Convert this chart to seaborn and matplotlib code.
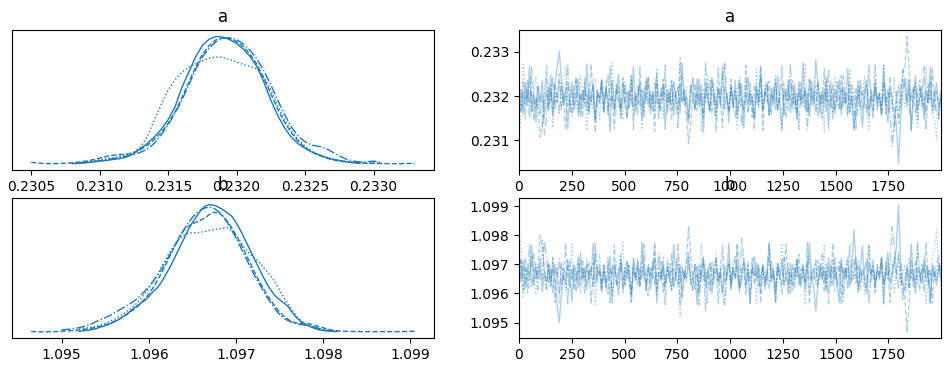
import numpy as np
import pandas as pd
import matplotlib
matplotlib.use("Agg")
import matplotlib.pyplot as plt
import seaborn as sns

# one line style per chain, as in an ArviZ trace plot
chain_styles = ["-", "--", ":", "-."]
KDE_STEP = 0.00005

# ---- KDE curves (relative height, grid step 0.00005) ----
a_kde_start = [0.23080, 0.23050, 0.23080, 0.23085]
a_kde_c0 = [0.005, 0.008, 0.012, 0.018, 0.025, 0.030, 0.038, 0.045, 0.058, 0.085,
            0.125, 0.165, 0.215, 0.275, 0.35, 0.45, 0.60, 0.72, 0.84, 0.93,
            0.98, 1.0, 0.995, 0.975, 0.945, 0.90, 0.84, 0.76, 0.64, 0.50,
            0.38, 0.285, 0.21, 0.16, 0.125, 0.095, 0.075, 0.055, 0.04, 0.03,
            0.02, 0.012, 0.008]
a_kde_c1 = [0.015, 0.01, 0.006, 0.005, 0.006, 0.008, 0.012, 0.017, 0.025, 0.035,
            0.048, 0.062, 0.072, 0.076, 0.078, 0.09, 0.115, 0.15, 0.195, 0.25,
            0.32, 0.41, 0.52, 0.64, 0.76, 0.86, 0.93, 0.975, 0.99, 0.985,
            0.96, 0.92, 0.86, 0.78, 0.67, 0.55, 0.43, 0.33, 0.245, 0.18,
            0.13, 0.095, 0.07, 0.05, 0.035, 0.025, 0.018, 0.013, 0.01, 0.008,
            0.007, 0.006, 0.005, 0.005, 0.005, 0.006, 0.008]
a_kde_c2 = [0.01, 0.014, 0.02, 0.027, 0.035, 0.045, 0.053, 0.063, 0.08, 0.095,
            0.14, 0.22, 0.35, 0.47, 0.58, 0.66, 0.72, 0.76, 0.785, 0.81,
            0.83, 0.84, 0.835, 0.82, 0.80, 0.78, 0.765, 0.745, 0.68, 0.58,
            0.46, 0.35, 0.26, 0.19, 0.14, 0.10, 0.075, 0.055, 0.04, 0.03,
            0.022, 0.016, 0.012, 0.01, 0.012, 0.008]
a_kde_c3 = [0.01, 0.015, 0.02, 0.028, 0.036, 0.045, 0.055, 0.065, 0.075, 0.095,
            0.12, 0.165, 0.23, 0.31, 0.40, 0.50, 0.62, 0.74, 0.84, 0.91,
            0.96, 0.985, 0.99, 0.975, 0.94, 0.89, 0.82, 0.73, 0.62, 0.50,
            0.39, 0.29, 0.22, 0.175, 0.15, 0.14, 0.125, 0.095, 0.065, 0.04,
            0.025, 0.018, 0.02, 0.025, 0.015]

b_kde_start = [1.09520, 1.09465, 1.09520, 1.09500]
b_kde_c0 = [0.008, 0.012, 0.016, 0.022, 0.03, 0.042, 0.052, 0.065, 0.08, 0.098,
            0.12, 0.145, 0.172, 0.2, 0.225, 0.248, 0.28, 0.32, 0.35, 0.40,
            0.46, 0.52, 0.59, 0.66, 0.73, 0.80, 0.86, 0.91, 0.96, 0.99,
            1.0, 0.995, 0.98, 0.96, 0.935, 0.91, 0.86, 0.80, 0.73, 0.66,
            0.59, 0.52, 0.45, 0.385, 0.33, 0.285, 0.255, 0.23, 0.20, 0.15,
            0.11, 0.08, 0.06, 0.045, 0.03, 0.02, 0.014, 0.01, 0.007, 0.005]
b_kde_c1 = [0.006, 0.005, 0.004, 0.004, 0.004, 0.005, 0.006, 0.008, 0.01, 0.012,
            0.015, 0.018, 0.022, 0.027, 0.033, 0.04, 0.048, 0.058, 0.07, 0.085,
            0.10, 0.12, 0.14, 0.165, 0.19, 0.22, 0.26, 0.30, 0.35, 0.41,
            0.47, 0.54, 0.61, 0.68, 0.75, 0.80, 0.83, 0.85, 0.865, 0.88,
            0.90, 0.925, 0.94, 0.935, 0.91, 0.87, 0.82, 0.76, 0.70, 0.63,
            0.56, 0.49, 0.42, 0.36, 0.30, 0.25, 0.20, 0.16, 0.125, 0.10,
            0.082, 0.072, 0.07, 0.07, 0.065, 0.055, 0.045, 0.035, 0.025, 0.018,
            0.013, 0.01, 0.008, 0.007, 0.006, 0.006, 0.005, 0.005, 0.005, 0.005,
            0.005, 0.005, 0.005, 0.005, 0.005, 0.006, 0.006, 0.007, 0.008]
b_kde_c2 = [0.03, 0.032, 0.035, 0.04, 0.048, 0.058, 0.07, 0.085, 0.10, 0.12,
            0.14, 0.165, 0.19, 0.22, 0.255, 0.30, 0.345, 0.40, 0.455, 0.52,
            0.58, 0.64, 0.69, 0.73, 0.76, 0.775, 0.78, 0.78, 0.785, 0.79,
            0.80, 0.805, 0.81, 0.815, 0.82, 0.80, 0.76, 0.71, 0.66, 0.62,
            0.59, 0.56, 0.52, 0.48, 0.44, 0.39, 0.33, 0.27, 0.22, 0.17,
            0.12, 0.09, 0.065, 0.05, 0.04, 0.03, 0.022, 0.016, 0.012, 0.01,
            0.008]
b_kde_c3 = [0.02, 0.022, 0.025, 0.03, 0.037, 0.045, 0.055, 0.068, 0.085, 0.10,
            0.115, 0.13, 0.15, 0.17, 0.19, 0.21, 0.23, 0.255, 0.285, 0.32,
            0.36, 0.40, 0.445, 0.50, 0.56, 0.62, 0.68, 0.74, 0.80, 0.855,
            0.90, 0.935, 0.96, 0.975, 0.98, 0.97, 0.945, 0.91, 0.86, 0.80,
            0.74, 0.67, 0.60, 0.53, 0.46, 0.40, 0.34, 0.28, 0.23, 0.18,
            0.14, 0.11, 0.09, 0.075, 0.065, 0.06, 0.055, 0.05, 0.04, 0.03,
            0.022, 0.015, 0.01]

# ---- traces (every ~10th draw of 2000) ----
a_trace_c0 = [
    0.23172, 0.23215, 0.23158, 0.23230, 0.23184, 0.23268, 0.23165, 0.23205, 0.23140, 0.23222,
    0.23190, 0.23236, 0.23150, 0.23212, 0.23176, 0.23248, 0.23161, 0.23226, 0.23262, 0.23302,
    0.23240, 0.23180, 0.23218, 0.23126, 0.23203, 0.23232, 0.23166, 0.23197, 0.23240, 0.23155,
    0.23214, 0.23178, 0.23272, 0.23160, 0.23198, 0.23226, 0.23142, 0.23210, 0.23185, 0.23238,
    0.23163, 0.23220, 0.23192, 0.23120, 0.23235, 0.23172, 0.23208, 0.23250, 0.23158, 0.23196,
    0.23225, 0.23150, 0.23212, 0.23182, 0.23266, 0.23166, 0.23201, 0.23230, 0.23146, 0.23218,
    0.23188, 0.23240, 0.23160, 0.23206, 0.23176, 0.23252, 0.23170, 0.23198, 0.23228, 0.23124,
    0.23215, 0.23184, 0.23236, 0.23156, 0.23205, 0.23222, 0.23162, 0.23274, 0.23180, 0.23200,
    0.23150, 0.23226, 0.23194, 0.23168, 0.23238, 0.23175, 0.23212, 0.23118, 0.23230, 0.23190,
    0.23164, 0.23242, 0.23200, 0.23158, 0.23220, 0.23185, 0.23268, 0.23168, 0.23205, 0.23140,
    0.23218, 0.23176, 0.23236, 0.23160, 0.23196, 0.23228, 0.23128, 0.23210, 0.23244, 0.23178,
    0.23200, 0.23148, 0.23226, 0.23185, 0.23264, 0.23165, 0.23208, 0.23232, 0.23156, 0.23195,
    0.23222, 0.23170, 0.23246, 0.23184, 0.23122, 0.23214, 0.23190, 0.23238, 0.23162, 0.23200,
    0.23228, 0.23145, 0.23216, 0.23180, 0.23276, 0.23168, 0.23206, 0.23155, 0.23234, 0.23192,
    0.23282, 0.23230, 0.23160, 0.23210, 0.23176, 0.23242, 0.23126, 0.23204, 0.23226, 0.23170,
    0.23196, 0.23238, 0.23158, 0.23214, 0.23185, 0.23262, 0.23165, 0.23200, 0.23122, 0.23172,
    0.23224, 0.23180, 0.23130, 0.23212, 0.23236, 0.23168, 0.23198, 0.23150, 0.23230, 0.23186,
    0.23208, 0.23160, 0.23270, 0.23175, 0.23140, 0.23218, 0.23192, 0.23165, 0.23135, 0.23047,
    0.23150, 0.23212, 0.23240, 0.23176, 0.23226, 0.23124, 0.23205, 0.23246, 0.23170, 0.23196,
    0.23222, 0.23148, 0.23214, 0.23184, 0.23266, 0.23162, 0.23200, 0.23230, 0.23155, 0.23210]
a_trace_c1 = [
    0.23222, 0.23165, 0.23208, 0.23150, 0.23236, 0.23182, 0.23212, 0.23145, 0.23198, 0.23170,
    0.23107, 0.23130, 0.23190, 0.23268, 0.23168, 0.23214, 0.23155, 0.23228, 0.23186, 0.23250,
    0.23172, 0.23206, 0.23124, 0.23232, 0.23195, 0.23160, 0.23218, 0.23244, 0.23176, 0.23205,
    0.23152, 0.23230, 0.23188, 0.23165, 0.23272, 0.23200, 0.23148, 0.23216, 0.23184, 0.23235,
    0.23162, 0.23210, 0.23248, 0.23178, 0.23202, 0.23126, 0.23226, 0.23190, 0.23168, 0.23242,
    0.23180, 0.23150, 0.23215, 0.23236, 0.23172, 0.23204, 0.23158, 0.23266, 0.23196, 0.23166,
    0.23220, 0.23245, 0.23176, 0.23208, 0.23120, 0.23230, 0.23186, 0.23164, 0.23238, 0.23198,
    0.23174, 0.23214, 0.23146, 0.23228, 0.23192, 0.23170, 0.23274, 0.23184, 0.23210, 0.23156,
    0.23092, 0.23140, 0.23205, 0.23228, 0.23168, 0.23242, 0.23180, 0.23150, 0.23216, 0.23194,
    0.23236, 0.23160, 0.23204, 0.23178, 0.23264, 0.23188, 0.23128, 0.23222, 0.23200, 0.23170,
    0.23238, 0.23176, 0.23212, 0.23148, 0.23230, 0.23190, 0.23164, 0.23270, 0.23182, 0.23206,
    0.23152, 0.23226, 0.23198, 0.23172, 0.23240, 0.23122, 0.23214, 0.23186, 0.23234, 0.23158,
    0.23200, 0.23228, 0.23166, 0.23210, 0.23268, 0.23175, 0.23152, 0.23218, 0.23192, 0.23236,
    0.23170, 0.23204, 0.23124, 0.23230, 0.23184, 0.23212, 0.23162, 0.23242, 0.23196, 0.23178,
    0.23224, 0.23155, 0.23208, 0.23182, 0.23262, 0.23165, 0.23198, 0.23232, 0.23148, 0.23214,
    0.23188, 0.23170, 0.23246, 0.23176, 0.23206, 0.23160, 0.23228, 0.23194, 0.23128, 0.23220,
    0.23180, 0.23236, 0.23168, 0.23202, 0.23226, 0.23150, 0.23214, 0.23188, 0.23270, 0.23172,
    0.23196, 0.23158, 0.23230, 0.23206, 0.23164, 0.23244, 0.23184, 0.23120, 0.23212, 0.23138,
    0.23200, 0.23252, 0.23262, 0.23335, 0.23268, 0.23190, 0.23222, 0.23160, 0.23208, 0.23236,
    0.23174, 0.23196, 0.23126, 0.23226, 0.23186, 0.23266, 0.23166, 0.23210, 0.23180, 0.23198]
a_trace_c2 = [
    0.23104, 0.23150, 0.23272, 0.23214, 0.23176, 0.23232, 0.23160, 0.23204, 0.23245, 0.23168,
    0.23196, 0.23130, 0.23212, 0.23238, 0.23172, 0.23220, 0.23128, 0.23206, 0.23186, 0.23234,
    0.23166, 0.23210, 0.23268, 0.23178, 0.23198, 0.23152, 0.23226, 0.23190, 0.23164, 0.23246,
    0.23182, 0.23210, 0.23122, 0.23228, 0.23200, 0.23170, 0.23240, 0.23186, 0.23148, 0.23216,
    0.23194, 0.23236, 0.23168, 0.23204, 0.23276, 0.23175, 0.23160, 0.23222, 0.23188, 0.23146,
    0.23232, 0.23198, 0.23176, 0.23244, 0.23162, 0.23210, 0.23184, 0.23228, 0.23124, 0.23200,
    0.23238, 0.23172, 0.23214, 0.23190, 0.23160, 0.23264, 0.23180, 0.23205, 0.23150, 0.23226,
    0.23196, 0.23168, 0.23236, 0.23178, 0.23212, 0.23156, 0.23289, 0.23242, 0.23190, 0.23220,
    0.23150, 0.23206, 0.23240, 0.23176, 0.23198, 0.23226, 0.23120, 0.23214, 0.23184, 0.23245,
    0.23166, 0.23202, 0.23230, 0.23148, 0.23218, 0.23190, 0.23172, 0.23272, 0.23200, 0.23162,
    0.23226, 0.23186, 0.23210, 0.23126, 0.23244, 0.23176, 0.23198, 0.23232, 0.23164, 0.23212,
    0.23188, 0.23150, 0.23266, 0.23180, 0.23206, 0.23170, 0.23228, 0.23196, 0.23158, 0.23220,
    0.23184, 0.23246, 0.23172, 0.23204, 0.23128, 0.23230, 0.23192, 0.23166, 0.23238, 0.23178,
    0.23212, 0.23160, 0.23226, 0.23200, 0.23174, 0.23274, 0.23186, 0.23156, 0.23216, 0.23196,
    0.23170, 0.23232, 0.23188, 0.23210, 0.23118, 0.23236, 0.23176, 0.23202, 0.23162, 0.23244,
    0.23192, 0.23168, 0.23220, 0.23184, 0.23205, 0.23152, 0.23262, 0.23178, 0.23212, 0.23190,
    0.23160, 0.23224, 0.23200, 0.23246, 0.23174, 0.23124, 0.23216, 0.23188, 0.23236, 0.23166,
    0.23204, 0.23180, 0.23270, 0.23158, 0.23214, 0.23196, 0.23170, 0.23242, 0.23186, 0.23148,
    0.23226, 0.23198, 0.23176, 0.23240, 0.23160, 0.23212, 0.23186, 0.23230, 0.23126, 0.23218,
    0.23196, 0.23170, 0.23268, 0.23182, 0.23206, 0.23165, 0.23150, 0.23102, 0.23178, 0.23214]
a_trace_c3 = [
    0.23207, 0.23168, 0.23232, 0.23180, 0.23215, 0.23150, 0.23264, 0.23196, 0.23172, 0.23222,
    0.23160, 0.23205, 0.23112, 0.23150, 0.23226, 0.23188, 0.23244, 0.23170, 0.23210, 0.23158,
    0.23230, 0.23186, 0.23200, 0.23272, 0.23164, 0.23214, 0.23178, 0.23236, 0.23152, 0.23204,
    0.23190, 0.23240, 0.23168, 0.23212, 0.23180, 0.23226, 0.23120, 0.23208, 0.23196, 0.23234,
    0.23172, 0.23218, 0.23156, 0.23266, 0.23190, 0.23166, 0.23228, 0.23202, 0.23150, 0.23236,
    0.23184, 0.23210, 0.23174, 0.23246, 0.23124, 0.23198, 0.23222, 0.23178, 0.23212, 0.23154,
    0.23240, 0.23182, 0.23204, 0.23168, 0.23230, 0.23196, 0.23150, 0.23220, 0.23188, 0.23270,
    0.23162, 0.23208, 0.23176, 0.23232, 0.23200, 0.23128, 0.23226, 0.23186, 0.23214, 0.23170,
    0.23136, 0.23218, 0.23240, 0.23172, 0.23206, 0.23182, 0.23226, 0.23160, 0.23277, 0.23200,
    0.23166, 0.23236, 0.23190, 0.23122, 0.23214, 0.23180, 0.23246, 0.23274, 0.23196, 0.23168,
    0.23222, 0.23184, 0.23152, 0.23210, 0.23238, 0.23132, 0.23176, 0.23204, 0.23164, 0.23230,
    0.23192, 0.23126, 0.23216, 0.23186, 0.23268, 0.23170, 0.23200, 0.23226, 0.23158, 0.23212,
    0.23180, 0.23238, 0.23166, 0.23202, 0.23226, 0.23154, 0.23214, 0.23190, 0.23274, 0.23172,
    0.23206, 0.23160, 0.23232, 0.23184, 0.23198, 0.23220, 0.23124, 0.23236, 0.23178, 0.23210,
    0.23164, 0.23228, 0.23196, 0.23146, 0.23216, 0.23186, 0.23262, 0.23174, 0.23204, 0.23158,
    0.23232, 0.23192, 0.23170, 0.23246, 0.23182, 0.23208, 0.23162, 0.23224, 0.23200, 0.23126,
    0.23234, 0.23176, 0.23212, 0.23188, 0.23160, 0.23268, 0.23196, 0.23168, 0.23220, 0.23184,
    0.23206, 0.23154, 0.23230, 0.23178, 0.23214, 0.23165, 0.23087, 0.23132, 0.23190, 0.23226,
    0.23172, 0.23262, 0.23210, 0.23186, 0.23236, 0.23122, 0.23204, 0.23226, 0.23146, 0.23218,
    0.23190, 0.23266, 0.23166, 0.23200, 0.23232, 0.23176, 0.23212, 0.23154, 0.23147, 0.23204]

b_trace_c0 = [
    1.09698, 1.09640, 1.09712, 1.09615, 1.09682, 1.09660, 1.09766, 1.09628, 1.09690, 1.09650,
    1.09720, 1.09605, 1.09675, 1.09642, 1.09705, 1.09622, 1.09688, 1.09658, 1.09560, 1.09500,
    1.09590, 1.09668, 1.09632, 1.09715, 1.09650, 1.09572, 1.09700, 1.09672, 1.09618, 1.09740,
    1.09645, 1.09690, 1.09612, 1.09682, 1.09655, 1.09772, 1.09630, 1.09676, 1.09700, 1.09608,
    1.09686, 1.09622, 1.09660, 1.09728, 1.09565, 1.09692, 1.09648, 1.09595, 1.09718, 1.09664,
    1.09626, 1.09706, 1.09650, 1.09598, 1.09688, 1.09640, 1.09710, 1.09625, 1.09778, 1.09656,
    1.09632, 1.09698, 1.09615, 1.09680, 1.09720, 1.09568, 1.09672, 1.09645, 1.09708, 1.09620,
    1.09690, 1.09655, 1.09610, 1.09768, 1.09662, 1.09628, 1.09700, 1.09585, 1.09676, 1.09650,
    1.09712, 1.09630, 1.09668, 1.09690, 1.09562, 1.09700, 1.09640, 1.09725, 1.09620, 1.09682,
    1.09654, 1.09598, 1.09688, 1.09716, 1.09634, 1.09672, 1.09600, 1.09695, 1.09648, 1.09774,
    1.09618, 1.09685, 1.09656, 1.09702, 1.09612, 1.09640, 1.09722, 1.09630, 1.09676, 1.09566,
    1.09690, 1.09662, 1.09708, 1.09625, 1.09652, 1.09698, 1.09614, 1.09682, 1.09770, 1.09642,
    1.09672, 1.09570, 1.09690, 1.09650, 1.09718, 1.09628, 1.09660, 1.09598, 1.09705, 1.09645,
    1.09620, 1.09712, 1.09668, 1.09636, 1.09696, 1.09610, 1.09680, 1.09776, 1.09654, 1.09624,
    1.09540, 1.09632, 1.09702, 1.09648, 1.09684, 1.09612, 1.09724, 1.09660, 1.09628, 1.09695,
    1.09640, 1.09568, 1.09720, 1.09652, 1.09688, 1.09618, 1.09676, 1.09700, 1.09820, 1.09690,
    1.09610, 1.09686, 1.09764, 1.09640, 1.09600, 1.09704, 1.09662, 1.09715, 1.09625, 1.09678,
    1.09650, 1.09722, 1.09564, 1.09690, 1.09742, 1.09632, 1.09668, 1.09700, 1.09760, 1.09906,
    1.09710, 1.09640, 1.09608, 1.09698, 1.09622, 1.09770, 1.09655, 1.09600, 1.09688, 1.09670,
    1.09632, 1.09722, 1.09644, 1.09684, 1.09566, 1.09700, 1.09660, 1.09628, 1.09705, 1.09648]
b_trace_c1 = [
    1.09630, 1.09712, 1.09648, 1.09722, 1.09602, 1.09665, 1.09696, 1.09740, 1.09650, 1.09690,
    1.09800, 1.09770, 1.09680, 1.09612, 1.09700, 1.09640, 1.09725, 1.09568, 1.09676, 1.09600,
    1.09702, 1.09645, 1.09772, 1.09658, 1.09620, 1.09690, 1.09612, 1.09640, 1.09700, 1.09628,
    1.09718, 1.09650, 1.09684, 1.09710, 1.09564, 1.09662, 1.09735, 1.09642, 1.09682, 1.09618,
    1.09696, 1.09638, 1.09598, 1.09688, 1.09660, 1.09768, 1.09625, 1.09674, 1.09706, 1.09616,
    1.09682, 1.09715, 1.09644, 1.09570, 1.09705, 1.09652, 1.09720, 1.09628, 1.09672, 1.09700,
    1.09622, 1.09592, 1.09688, 1.09648, 1.09776, 1.09614, 1.09690, 1.09710, 1.09606, 1.09660,
    1.09684, 1.09640, 1.09738, 1.09624, 1.09668, 1.09700, 1.09562, 1.09680, 1.09650, 1.09716,
    1.09830, 1.09740, 1.09650, 1.09615, 1.09698, 1.09602, 1.09694, 1.09720, 1.09640, 1.09672,
    1.09610, 1.09708, 1.09650, 1.09686, 1.09566, 1.09678, 1.09766, 1.09632, 1.09664, 1.09700,
    1.09612, 1.09690, 1.09648, 1.09774, 1.09620, 1.09676, 1.09705, 1.09596, 1.09684, 1.09652,
    1.09722, 1.09630, 1.09672, 1.09700, 1.09568, 1.09690, 1.09642, 1.09680, 1.09618, 1.09710,
    1.09662, 1.09625, 1.09700, 1.09650, 1.09598, 1.09688, 1.09770, 1.09630, 1.09676, 1.09610,
    1.09694, 1.09656, 1.09735, 1.09620, 1.09682, 1.09640, 1.09712, 1.09564, 1.09664, 1.09690,
    1.09632, 1.09712, 1.09650, 1.09690, 1.09604, 1.09702, 1.09668, 1.09622, 1.09772, 1.09646,
    1.09680, 1.09710, 1.09566, 1.09690, 1.09655, 1.09720, 1.09628, 1.09672, 1.09716, 1.09636,
    1.09700, 1.09615, 1.09686, 1.09660, 1.09618, 1.09768, 1.09640, 1.09680, 1.09602, 1.09698,
    1.09670, 1.09720, 1.09630, 1.09662, 1.09708, 1.09570, 1.09676, 1.09724, 1.09650, 1.09742,
    1.09666, 1.09610, 1.09590, 1.09468, 1.09560, 1.09688, 1.09624, 1.09716, 1.09650, 1.09612,
    1.09700, 1.09668, 1.09774, 1.09630, 1.09682, 1.09566, 1.09692, 1.09646, 1.09694, 1.09662]
b_trace_c2 = [
    1.09820, 1.09760, 1.09590, 1.09640, 1.09700, 1.09622, 1.09728, 1.09660, 1.09598, 1.09696,
    1.09672, 1.09782, 1.09650, 1.09612, 1.09700, 1.09630, 1.09718, 1.09664, 1.09690, 1.09566,
    1.09712, 1.09655, 1.09608, 1.09700, 1.09668, 1.09770, 1.09628, 1.09680, 1.09714, 1.09598,
    1.09690, 1.09645, 1.09722, 1.09632, 1.09674, 1.09708, 1.09562, 1.09682, 1.09736, 1.09640,
    1.09674, 1.09612, 1.09698, 1.09660, 1.09590, 1.09692, 1.09716, 1.09630, 1.09684, 1.09776,
    1.09628, 1.09662, 1.09700, 1.09568, 1.09720, 1.09650, 1.09686, 1.09620, 1.09710, 1.09668,
    1.09615, 1.09700, 1.09640, 1.09676, 1.09766, 1.09596, 1.09690, 1.09658, 1.09728, 1.09632,
    1.09672, 1.09708, 1.09614, 1.09688, 1.09652, 1.09722, 1.09520, 1.09600, 1.09680, 1.09642,
    1.09728, 1.09660, 1.09612, 1.09700, 1.09672, 1.09620, 1.09772, 1.09648, 1.09690, 1.09564,
    1.09706, 1.09664, 1.09630, 1.09735, 1.09640, 1.09680, 1.09702, 1.09570, 1.09660, 1.09716,
    1.09632, 1.09690, 1.09650, 1.09768, 1.09602, 1.09684, 1.09660, 1.09618, 1.09712, 1.09640,
    1.09676, 1.09720, 1.09566, 1.09694, 1.09652, 1.09700, 1.09626, 1.09670, 1.09722, 1.09636,
    1.09688, 1.09598, 1.09702, 1.09666, 1.09774, 1.09630, 1.09676, 1.09708, 1.09615, 1.09690,
    1.09648, 1.09718, 1.09632, 1.09672, 1.09700, 1.09562, 1.09684, 1.09730, 1.09640, 1.09662,
    1.09705, 1.09622, 1.09680, 1.09650, 1.09770, 1.09612, 1.09692, 1.09660, 1.09720, 1.09604,
    1.09668, 1.09698, 1.09640, 1.09568, 1.09678, 1.09730, 1.09622, 1.09686, 1.09650, 1.09676,
    1.09716, 1.09640, 1.09668, 1.09598, 1.09690, 1.09766, 1.09662, 1.09684, 1.09612, 1.09700,
    1.09648, 1.09690, 1.09564, 1.09712, 1.09652, 1.09670, 1.09710, 1.09600, 1.09680, 1.09730,
    1.09628, 1.09666, 1.09700, 1.09605, 1.09724, 1.09650, 1.09684, 1.09618, 1.09776, 1.09640,
    1.09672, 1.09700, 1.09566, 1.09690, 1.09660, 1.09718, 1.09760, 1.09820, 1.09668, 1.09630]
b_trace_c3 = [
    1.09650, 1.09718, 1.09604, 1.09690, 1.09640, 1.09772, 1.09620, 1.09680, 1.09702, 1.09612,
    1.09675, 1.09648, 1.09780, 1.09730, 1.09632, 1.09690, 1.09600, 1.09705, 1.09660, 1.09720,
    1.09618, 1.09684, 1.09670, 1.09564, 1.09712, 1.09646, 1.09690, 1.09608, 1.09726, 1.09668,
    1.09680, 1.09600, 1.09700, 1.09652, 1.09690, 1.09624, 1.09774, 1.09660, 1.09678, 1.09610,
    1.09698, 1.09640, 1.09722, 1.09568, 1.09684, 1.09706, 1.09630, 1.09668, 1.09735, 1.09602,
    1.09690, 1.09650, 1.09700, 1.09596, 1.09720, 1.09672, 1.09626, 1.09688, 1.09650, 1.09770,
    1.09604, 1.09690, 1.09660, 1.09712, 1.09628, 1.09676, 1.09738, 1.09640, 1.09696, 1.09562,
    1.09718, 1.09656, 1.09684, 1.09624, 1.09670, 1.09768, 1.09636, 1.09692, 1.09650, 1.09700,
    1.09745, 1.09648, 1.09610, 1.09700, 1.09665, 1.09560, 1.09690, 1.09712, 1.09540, 1.09672,
    1.09708, 1.09630, 1.09684, 1.09722, 1.09640, 1.09688, 1.09598, 1.09560, 1.09676, 1.09704,
    1.09632, 1.09698, 1.09732, 1.09660, 1.09618, 1.09790, 1.09720, 1.09668, 1.09700, 1.09566,
    1.09680, 1.09726, 1.09642, 1.09690, 1.09604, 1.09694, 1.09660, 1.09628, 1.09774, 1.09650,
    1.09690, 1.09570, 1.09708, 1.09664, 1.09630, 1.09724, 1.09650, 1.09686, 1.09600, 1.09700,
    1.09660, 1.09720, 1.09628, 1.09680, 1.09692, 1.09640, 1.09776, 1.09610, 1.09676, 1.09652,
    1.09716, 1.09630, 1.09674, 1.09735, 1.09640, 1.09682, 1.09564, 1.09700, 1.09656, 1.09722,
    1.09626, 1.09668, 1.09712, 1.09596, 1.09690, 1.09652, 1.09770, 1.09632, 1.09676, 1.09728,
    1.09604, 1.09690, 1.09654, 1.09680, 1.09722, 1.09566, 1.09666, 1.09700, 1.09638, 1.09684,
    1.09660, 1.09730, 1.09628, 1.09692, 1.09650, 1.09710, 1.09830, 1.09760, 1.09676, 1.09618,
    1.09700, 1.09575, 1.09648, 1.09690, 1.09620, 1.09712, 1.09660, 1.09632, 1.09772, 1.09650,
    1.09684, 1.09608, 1.09700, 1.09664, 1.09568, 1.09690, 1.09646, 1.09702, 1.09730, 1.09655]

N_DRAWS = 2000


def kde_frame(starts, curves):
    rows = []
    for chain, (start, heights) in enumerate(zip(starts, curves)):
        xs = start + KDE_STEP * np.arange(len(heights))
        rows.append(pd.DataFrame({"value": xs, "density": heights, "chain": chain}))
    return pd.concat(rows, ignore_index=True)


def trace_frame(chains):
    rows = []
    for chain, values in enumerate(chains):
        draws = np.linspace(0, N_DRAWS - 1, len(values))
        rows.append(pd.DataFrame({"draw": draws, "value": values, "chain": chain}))
    return pd.concat(rows, ignore_index=True)


panels = {
    "a": (kde_frame(a_kde_start, [a_kde_c0, a_kde_c1, a_kde_c2, a_kde_c3]),
          trace_frame([a_trace_c0, a_trace_c1, a_trace_c2, a_trace_c3])),
    "b": (kde_frame(b_kde_start, [b_kde_c0, b_kde_c1, b_kde_c2, b_kde_c3]),
          trace_frame([b_trace_c0, b_trace_c1, b_trace_c2, b_trace_c3])),
}

fig = plt.figure(figsize=(9.51, 3.72), dpi=100)
rows_bottom = [0.543, 0.091]
for row, (name, (kde_df, trace_df)) in enumerate(panels.items()):
    ax_kde = fig.add_axes([0.0126, rows_bottom[row], 0.4437, 0.376])
    ax_trace = fig.add_axes([0.5457, rows_bottom[row], 0.4437, 0.376])

    for chain, sub in kde_df.groupby("chain"):
        sns.lineplot(data=sub, x="value", y="density", ax=ax_kde, color="C0",
                     linestyle=chain_styles[chain], linewidth=1, estimator=None, sort=False)
    ax_kde.set_yticks([])
    ax_kde.set_xlabel("")
    ax_kde.set_ylabel("")
    ax_kde.set_title(name)

    for chain, sub in trace_df.groupby("chain"):
        sns.lineplot(data=sub, x="draw", y="value", ax=ax_trace, color="C0", alpha=0.35,
                     linestyle=chain_styles[chain], linewidth=1, estimator=None, sort=False)
    ax_trace.margins(x=0)
    ax_trace.set_xlabel("")
    ax_trace.set_ylabel("")
    ax_trace.set_title(name)

fig.savefig("out.png", dpi=100)
